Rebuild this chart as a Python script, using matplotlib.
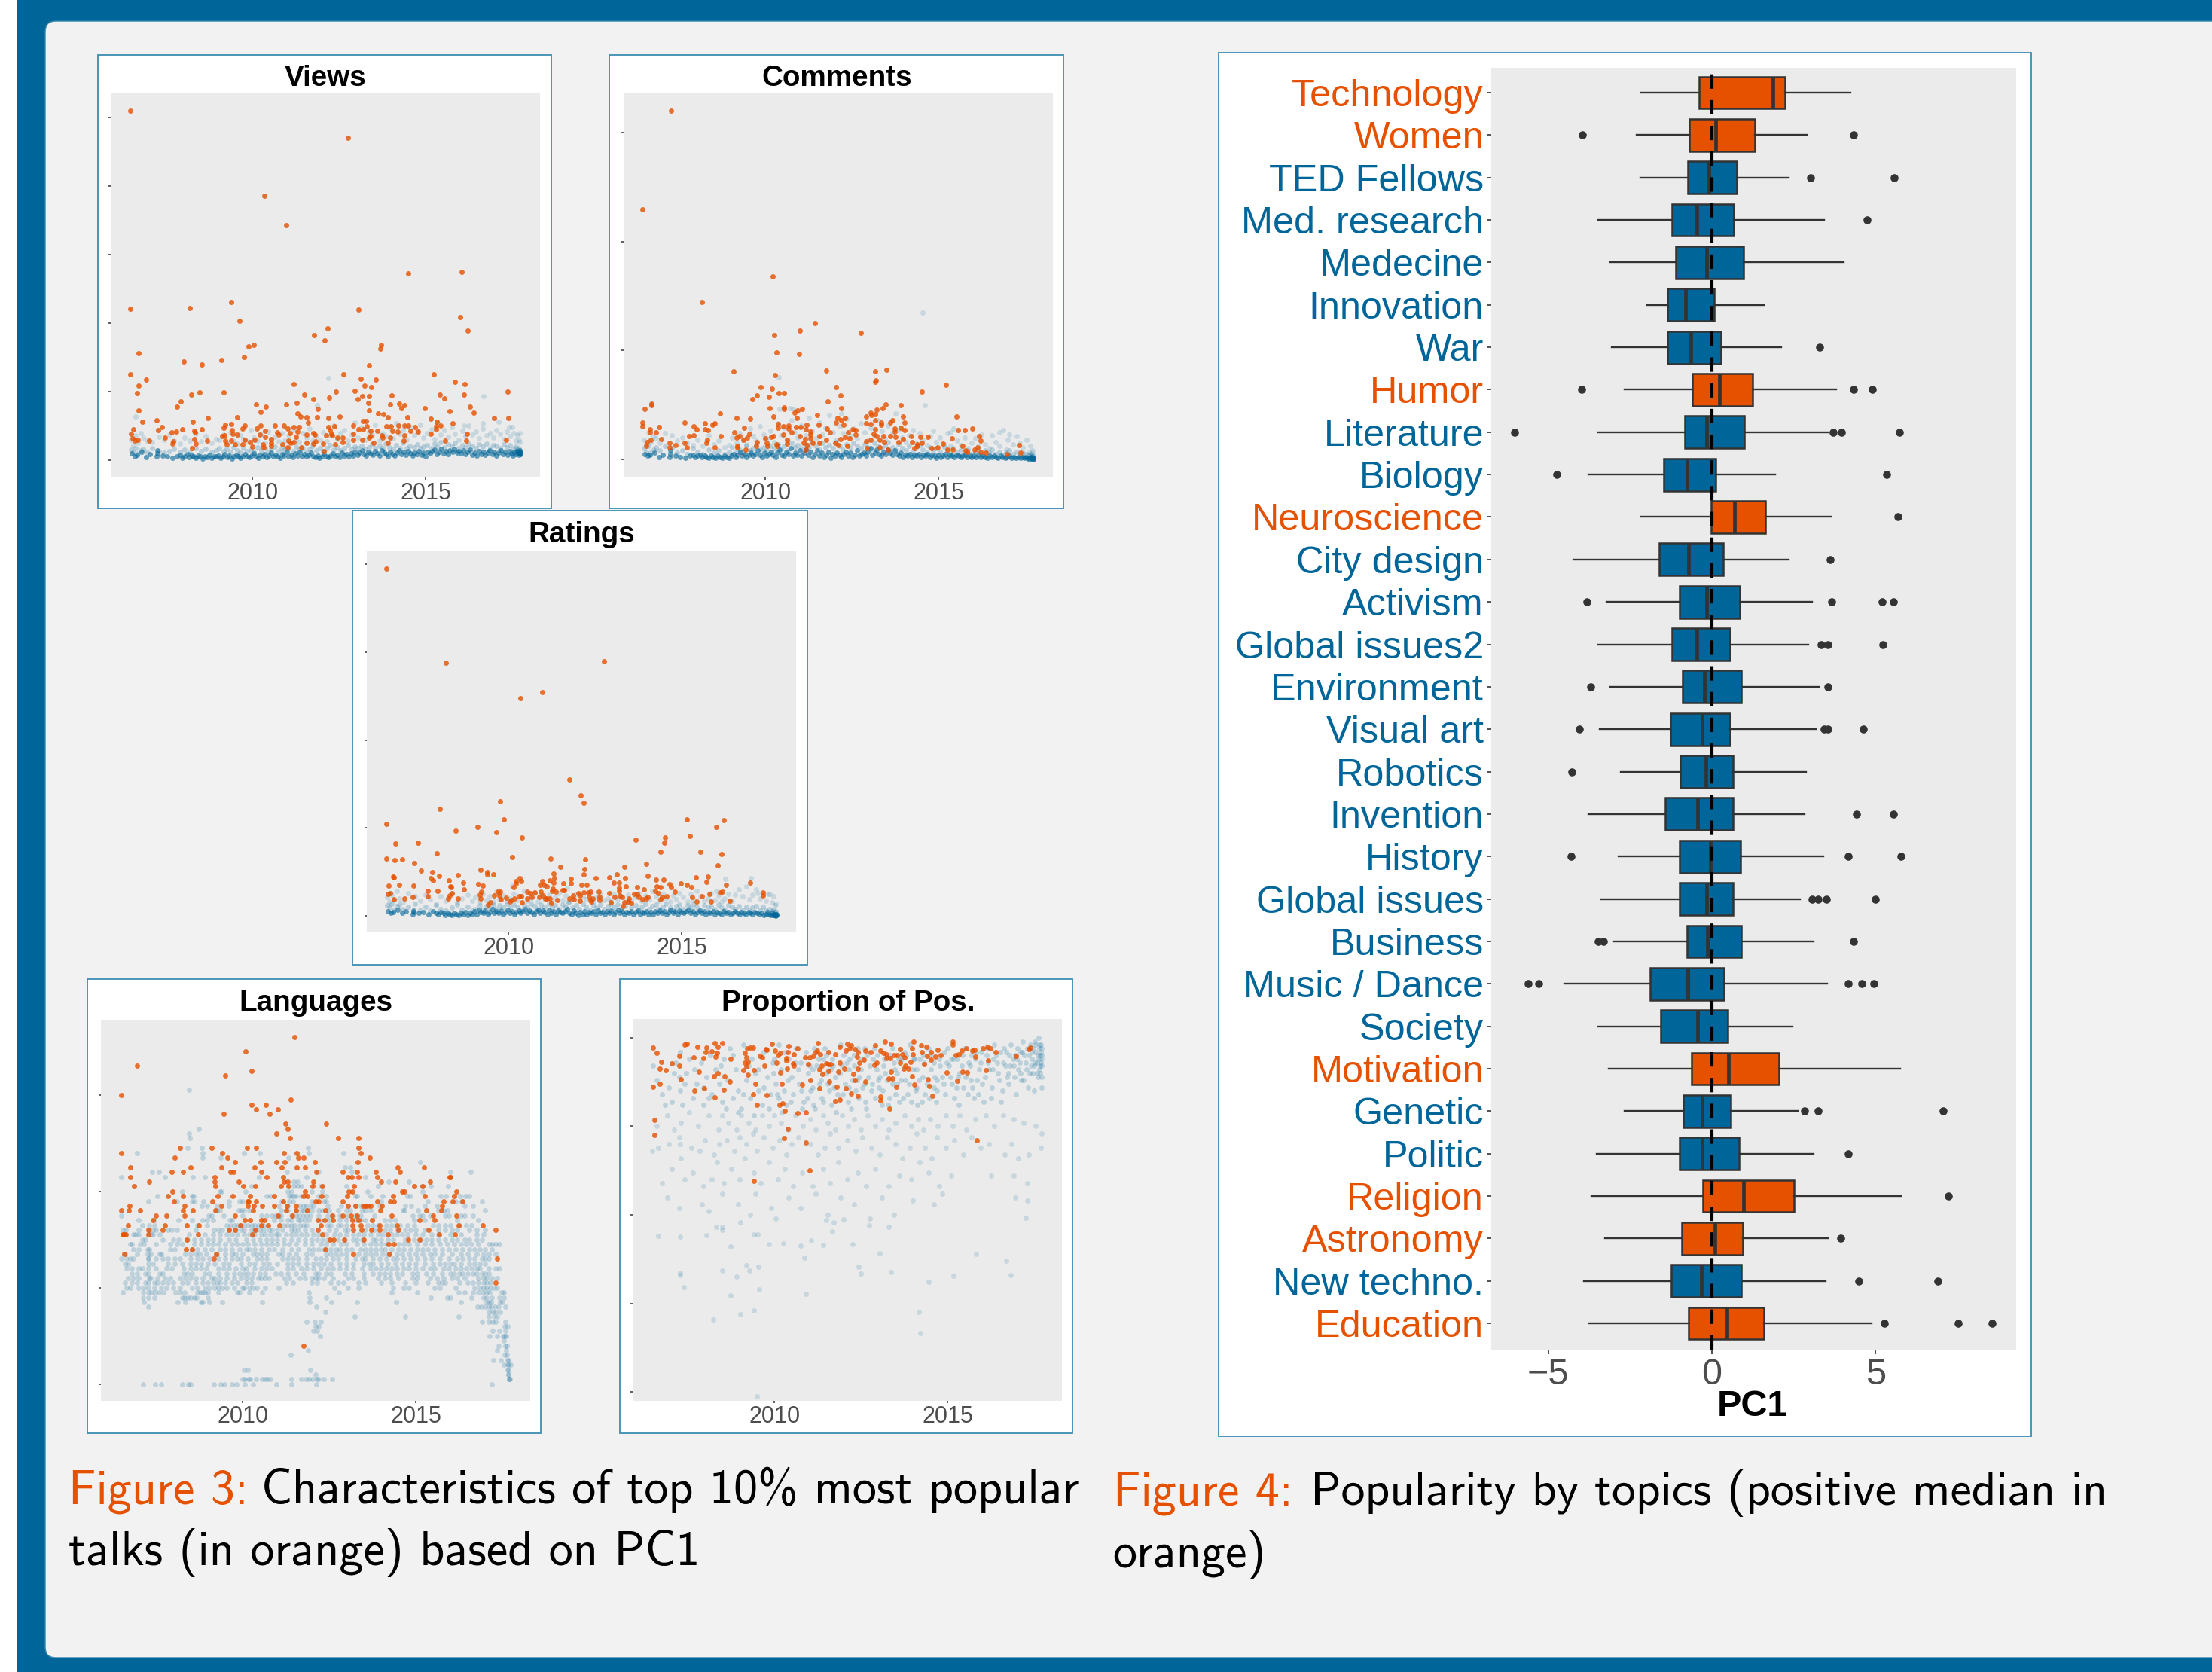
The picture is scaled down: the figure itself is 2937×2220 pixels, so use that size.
import matplotlib
matplotlib.use('Agg')
import matplotlib.pyplot as plt
from matplotlib.patches import Rectangle, FancyBboxPatch

plt.rcParams['font.family'] = ['Liberation Sans', 'DejaVu Sans']

BLUE = '#006699'
ORANGE = '#E65100'
W, H = 2937, 2220

# ---------- Figure 4 data ----------
topics = ['Technology','Women','TED Fellows','Med. research','Medecine','Innovation','War','Humor','Literature','Biology',
          'Neuroscience','City design','Activism','Global issues2','Environment','Visual art','Robotics','Invention','History','Global issues',
          'Business','Music / Dance','Society','Motivation','Genetic','Politic','Religion','Astronomy','New techno.','Education']
whislo = [-2.16,-2.29,-2.18,-3.48,-3.10,-1.97,-3.05,-2.66,-3.48,-3.77,-2.16,-4.24,-3.21,-3.47,-3.10,-3.42,-2.79,-3.77,-2.85,-3.39,-2.98,-4.52,-3.48,-3.16,-2.66,-3.53,-3.69,-3.26,-3.90,-3.76]
q1 = [-0.39,-0.69,-0.74,-1.21,-1.10,-1.35,-1.35,-0.60,-0.84,-1.48,-0.03,-1.60,-0.98,-1.23,-0.89,-1.27,-0.97,-1.42,-0.98,-1.00,-0.76,-1.89,-1.56,-0.63,-0.87,-0.98,-0.27,-0.92,-1.24,-0.71]
medians = [1.87,0.11,-0.10,-0.47,-0.16,-0.81,-0.65,0.24,-0.16,-0.77,0.68,-0.71,-0.16,-0.45,-0.24,-0.31,-0.18,-0.44,-0.05,-0.16,-0.13,-0.73,-0.44,0.50,-0.29,-0.31,0.97,0.08,-0.32,0.45]
q3 = [2.23,1.31,0.76,0.66,0.97,0.06,0.27,1.23,0.98,0.11,1.63,0.34,0.85,0.55,0.89,0.56,0.65,0.65,0.87,0.65,0.90,0.37,0.48,2.05,0.58,0.82,2.50,0.95,0.90,1.58]
whishi = [4.23,2.90,2.35,3.42,4.02,1.58,2.11,3.79,3.56,1.94,3.63,2.35,3.06,2.94,3.26,3.18,2.87,2.82,3.40,2.68,3.11,3.52,2.47,5.74,2.63,3.10,5.77,3.53,3.48,4.87]
outliers = [[],[-3.95,4.32],[3.02,5.56],[4.73],[],[],[3.29],[-3.98,4.32,4.89],[-6.02,3.69,3.95,5.73],[-4.73,5.34],
            [5.68],[3.60],[-3.81,3.65,5.19,5.55],[3.34,3.55,5.23],[-3.71,3.55],[-4.06,3.42,3.55,4.63],[-4.29],[4.42,5.55],[-4.31,4.15,5.77],[3.05,3.24,3.50,4.98],
            [-3.48,-3.31,4.32],[-5.61,-5.29,4.15,4.58,4.95],[],[],[2.82,3.23,7.06],[4.15],[7.23],[3.94],[4.48,6.90],[5.27,7.53,8.55]]
positive_topics = ['Technology','Women','Humor','Neuroscience','Motivation','Religion','Astronomy','Education']

# ---------- Figure 3 data: shared dense band of talk dates (years since 2000) ----------
core_years = [6.52,6.61,6.68,6.80,6.93,7.05,7.24,7.25,7.26,7.40,
 7.55,7.70,7.83,7.90,7.97,8.04,8.12,8.18,8.25,8.30,
 8.37,8.44,8.50,8.57,8.62,8.70,8.76,8.83,8.88,8.95,
 9.01,9.08,9.14,9.20,9.27,9.33,9.40,9.46,9.53,9.58,
 9.65,9.71,9.78,9.84,9.90,9.97,10.03,10.10,10.16,10.22,
 10.29,10.35,10.42,10.48,10.55,10.60,10.67,10.73,10.80,10.86,
 10.92,10.99,11.05,11.12,11.18,11.24,11.31,11.37,11.44,11.50,
 11.57,11.62,11.69,11.75,11.82,11.88,11.94,12.01,12.07,12.14,
 12.20,12.26,12.33,12.39,12.46,12.52,12.59,12.64,12.71,12.77,
 12.84,12.90,12.96,13.03,13.09,13.16,13.22,13.28,13.35,13.41,
 13.48,13.54,13.61,13.66,13.73,13.79,13.86,13.92,13.98,14.05,
 14.11,14.18,14.24,14.30,14.37,14.43,14.50,14.56,14.63,14.68,
 14.75,14.81,14.88,14.94,15.00,15.07,15.13,15.20,15.26,15.32,
 15.39,15.45,15.52,15.58,15.65,15.70,15.77,15.83,15.90,15.96,
 16.02,16.09,16.15,16.22,16.28,16.34,16.41,16.47,16.54,16.60,
 16.67,16.72,16.79,16.85,16.92,16.98,17.04,17.11,17.17,17.24,
 17.30,17.36,17.42,17.47,17.52,17.56,17.60,17.63,17.66,17.68,
 17.70,17.71,17.72,17.72,17.73,17.73]
views_core = [.10,.05,.08,.12,.04,.09,.05,.10,.14,.07, .06,.03,.05,.08,.03,.06,.09,.04,.07,.05,
 .03,.07,.05,.02,.06,.04,.08,.03,.06,.05, .07,.03,.06,.09,.04,.07,.02,.05,.08,.06,
 .03,.06,.09,.05,.04,.07,.10,.05,.03,.08, .06,.09,.04,.07,.11,.05,.08,.06,.03,.09,
 .07,.12,.05,.08,.04,.10,.07,.12,.06,.09, .05,.08,.11,.06,.04,.07,.03,.06,.09,.05,
 .04,.07,.10,.06,.08,.04,.11,.07,.09,.06, .10,.07,.12,.08,.11,.14,.09,.07,.12,.10,
 .08,.13,.10,.07,.14,.11,.09,.06,.12,.09, .07,.11,.14,.09,.12,.08,.13,.10,.07,.11,
 .09,.13,.08,.11,.06,.12,.10,.13,.15,.09, .12,.16,.10,.13,.09,.14,.12,.16,.11,.13,
 .10,.14,.09,.12,.15,.08,.11,.07,.13,.09, .12,.08,.11,.14,.09,.12,.07,.11,.14,.09,
 .12,.08,.13,.10,.07,.12,.09,.13,.10,.12, .08,.12,.10,.14,.09,.11]
comments_core = [.05,.03,.04,.06,.02,.04,.02,.05,.08,.03, .02,.01,.03,.04,.02,.03,.04,.02,.03,.02,
 .01,.03,.02,.01,.03,.02,.01,.03,.02,.01, .03,.05,.02,.04,.07,.03,.05,.02,.04,.06,
 .03,.05,.08,.04,.02,.06,.03,.05,.07,.04, .02,.06,.09,.04,.03,.07,.05,.10,.03,.06,
 .04,.08,.03,.06,.09,.04,.07,.02,.05,.08, .03,.06,.02,.04,.07,.01,.05,.03,.06,.04,
 .02,.05,.07,.03,.06,.02,.04,.08,.03,.05, .06,.03,.07,.10,.04,.06,.09,.05,.03,.07,
 .05,.09,.06,.04,.08,.05,.03,.06,.02,.04, .03,.05,.02,.04,.03,.05,.02,.04,.03,.05,
 .02,.04,.03,.01,.04,.02,.03,.05,.02,.04, .03,.02,.04,.03,.02,.03,.04,.02,.03,.02,
 .03,.02,.04,.02,.03,.02,.01,.03,.02,.03, .02,.01,.03,.02,.01,.02,.03,.01,.02,.01,
 .02,.01,.02,.01,.02,.01,.00,.01,.02,.01, .01,.00,.01,.02,.01,.00]
ratings_core = [.05,.03,.04,.07,.03,.05,.02,.04,.06,.03, .04,.02,.05,.03,.02,.04,.03,.01,.03,.02,
 .01,.03,.02,.01,.03,.02,.04,.01,.03,.02, .05,.02,.07,.04,.03,.06,.02,.04,.08,.03,
 .05,.03,.06,.02,.04,.07,.03,.05,.02,.04, .06,.03,.05,.08,.03,.06,.04,.02,.05,.07,
 .03,.06,.04,.02,.07,.03,.05,.02,.06,.04, .03,.05,.08,.03,.02,.06,.03,.01,.04,.02,
 .05,.02,.04,.03,.05,.02,.06,.03,.04,.02, .05,.03,.06,.02,.04,.07,.03,.05,.02,.04,
 .03,.05,.02,.04,.06,.02,.04,.03,.05,.02, .04,.02,.05,.03,.06,.03,.05,.02,.04,.07,
 .03,.05,.02,.06,.04,.03,.05,.07,.03,.05, .02,.04,.06,.03,.05,.02,.04,.03,.05,.02,
 .04,.03,.02,.05,.03,.04,.02,.03,.05,.03, .02,.04,.03,.02,.04,.03,.02,.04,.03,.02,
 .03,.01,.02,.04,.02,.01,.03,.01,.02,.01, .01,.02,.00,.01,.02,.01]

halo_years = [6.5,6.56,6.62,6.7,6.77,6.85,6.96,7.1,7.31,7.45,
 7.6,7.74,7.92,8.05,8.2,8.36,8.51,8.65,8.82,8.95,
 9.05,9.16,9.25,9.37,9.45,9.56,9.65,9.74,9.85,9.96,
 10.05,10.14,10.25,10.36,10.45,10.53,10.65,10.76,10.85,10.94,
 11.05,11.16,11.25,11.34,11.45,11.56,11.65,11.73,11.85,11.96,
 12.05,12.15,12.24,12.35,12.46,12.55,12.64,12.75,12.86,12.95,
 13.05,13.14,13.25,13.36,13.45,13.55,13.66,13.75,13.84,13.95,
 14.06,14.15,14.25,14.34,14.45,14.55,14.66,14.75,14.85,14.94,
 15.05,15.16,15.25,15.35,15.44,15.55,15.65,15.76,15.85,15.95,
 16.06,16.15,16.24,16.35,16.45,16.54,16.65,16.75,16.86,16.95,
 17.05,17.14,17.25,17.35,17.44,17.55,17.6,17.65,17.69,17.72]
views_near = [.15,.12,.18,.10,.14,.16,.12,.17,.13,.11, .13,.16,.12,.15,.11,.17,.13,.16,.12,.14,
 .18,.13,.16,.12,.19,.14,.11,.17,.13,.15, .12,.19,.14,.17,.12,.16,.20,.13,.18,.15,
 .17,.13,.20,.15,.18,.12,.16,.21,.14,.18, .13,.17,.22,.15,.19,.14,.18,.22,.16,.20,
 .17,.21,.16,.19,.23,.17,.21,.18,.24,.19, .16,.22,.18,.25,.17,.21,.19,.23,.17,.20,
 .22,.18,.24,.20,.26,.19,.23,.21,.25,.18, .22,.19,.24,.21,.17,.23,.20,.24,.18,.22,
 .21,.18,.23,.19,.22,.17,.20,.15,.18,.14]
views_far = [.30,.22,.36,.25,.40,.33,.28,.26,.34,.30, .37,.28,.24,.33,.29,.38,.27,.35,.25,.31,
 .30,.37,.26,.41,.29,.24,.36,.31,.27,.44, .33,.28,.38,.25,.42,.30,.34,.27,.40,.29,
 .36,.44,.31,.26,.39,.33,.46,.28,.35,.30, .41,.27,.36,.50,.31,.40,.44,.29,.37,.55,
 .33,.48,.30,.42,.37,.52,.29,.40,.35,.47, .32,.54,.38,.44,.30,.48,.36,.42,.52,.33,
 .39,.45,.31,.55,.37,.44,.34,.48,.38,.30, .43,.35,.50,.37,.42,.32,.46,.36,.39,.33,
 .44,.38,.31,.42,.35,.39,.28,.36,.30,.26]
comments_near = [.10,.07,.12,.06,.09,.11,.08,.12,.10,.06, .08,.05,.10,.07,.05,.09,.06,.08,.05,.07,
 .11,.07,.09,.06,.12,.08,.10,.13,.09,.11, .08,.12,.10,.14,.09,.12,.08,.15,.11,.13,
 .10,.14,.11,.16,.12,.09,.15,.11,.13,.10, .16,.12,.09,.14,.11,.15,.12,.10,.14,.11,
 .09,.15,.12,.10,.13,.16,.11,.09,.14,.10, .08,.12,.07,.10,.13,.09,.06,.11,.08,.10,
 .07,.11,.08,.05,.10,.07,.09,.06,.08,.05, .07,.09,.05,.08,.06,.09,.05,.07,.04,.06,
 .08,.05,.07,.04,.06,.05,.03,.05,.03,.04]
comments_far = [.18,.14,.25,.16,.21,.19,.15,.24,.22,.17, .20,.15,.13,.18,.12,.22,.14,.17,.11,.13,
 .20,.15,.24,.18,.14,.28,.21,.17,.30,.23, .19,.26,.16,.33,.22,.29,.18,.36,.25,.20,
 .31,.22,.38,.26,.19,.34,.23,.29,.41,.25, .18,.30,.24,.37,.21,.28,.19,.33,.25,.17,
 .29,.22,.36,.26,.19,.31,.24,.42,.27,.20, .16,.22,.27,.15,.24,.18,.13,.21,.26,.16,
 .20,.14,.24,.12,.28,.17,.13,.20,.10,.15, .19,.12,.23,.14,.10,.22,.16,.12,.27,.09,
 .23,.14,.21,.15,.11,.18,.07,.12,.06,.08]
ratings_near = [.12,.09,.14,.07,.11,.13,.08,.10,.14,.07, .10,.06,.12,.08,.06,.09,.13,.07,.10,.06,
 .08,.12,.07,.11,.09,.13,.08,.12,.10,.14, .09,.13,.10,.07,.12,.09,.14,.11,.08,.13,
 .10,.14,.09,.12,.08,.13,.10,.15,.09,.12, .08,.14,.10,.07,.12,.09,.13,.08,.11,.14,
 .09,.13,.08,.11,.15,.09,.12,.07,.10,.14, .08,.11,.13,.08,.10,.14,.09,.07,.11,.13,
 .08,.12,.09,.14,.10,.07,.12,.09,.11,.08, .13,.09,.07,.12,.10,.08,.11,.07,.10,.06,
 .09,.11,.07,.10,.06,.08,.05,.07,.04,.05]
ratings_far = [.21,.16,.24,.18,.28,.20,.15,.26,.22,.17, .24,.19,.14,.22,.17,.26,.15,.20,.24,.17,
 .21,.16,.25,.18,.22,.16,.27,.19,.23,.17, .20,.25,.18,.22,.28,.17,.20,.26,.16,.23,
 .19,.24,.17,.21,.26,.18,.23,.16,.20,.25, .17,.22,.19,.26,.16,.21,.24,.18,.20,.17,
 .25,.19,.22,.16,.24,.18,.21,.26,.17,.23, .19,.28,.22,.17,.25,.20,.16,.23,.19,.26,
 .21,.16,.25,.18,.28,.22,.17,.20,.26,.18, .23,.16,.20,.25,.17,.24,.30,.22,.33,.19,
 .24,.30,.20,.24,.17,.25,.15,.22,.12,.14]
views_extra_blue = [(2012.2,1.2),(2011.87,.8),(2016.68,.93),(2006.63,.64),(2017.71,.39),(2016.1,.5),(2016.65,.54),(2017.1,.56),(2017.4,.48),(2017.5,.48)]
comments_extra_blue = [(2014.53,1.347),(2014.61,.5),(2010.39,.75),(2010.72,.47),(2010.4,.46),(2012.2,.42),(2010.8,.46),(2016.75,.25),(2017.0,.18),(2015.35,.25)]
ratings_extra_blue = [(2016.25,.42),(2017.0,.43),(2010.1,.34),(2016.0,.28),(2017.2,.26),(2017.5,.25),(2011.7,.32)]

views_x = [2006.48,2012.76,2010.34,2010.98,2014.49,2016.03,2006.48,2008.19,2009.38,2013.06,2015.99,2009.63,2012.18,2016.22,2011.78,2012.09,2009.88,2010.04,2013.71,2013.69,2006.72,2009.76,2008.01,2009.1,2008.53,2013.37,2006.48,2012.63,2015.23,2006.93,2013.13,2013.56,2006.72,2011.2,2013.23,2013.44,2015.84,2016.13,2006.67,2009.18,2008.47,2008.24,2012.4,2012.96,2017.36,2011.5,2014.01,2013.18,2013.36,2015.4,2015.53,2016.1,2012.21,2011.76,2013.03,2007.93,2011.28,2010.98,2010.11,2013.34,2013.97,2014.24,2014.39,2007.82,2010.39,2016.27,2014.29,2014.98,2011.88,2006.71,2010.24,2013.37,2015.7,2016.39,2011.3,2013.63,2013.77,2011.38,2011.57,2012.52,2012.2,2011.87,2008.72,2009.57,2013.92,2014.47,2016.98,2017.38,2015.14,2011.61,2006.83,2007.24,2008.27,2013.19,2013.28,2015.33,2015.77,
 2006.57,2007.27,2007.38,2007.68,2007.8,2007.97,2008.32,2008.34,2008.54,2009.17,2009.22,2009.38,2009.4,2009.71,2009.77,2010.12,2010.23,2010.37,2010.64,2010.9,2011.01,2011.19,2011.34,2011.29,2011.09,2010.72,2012.2,2012.37,2012.23,2012.9,2013.06,2013.2,2013.31,2013.42,2013.61,2013.87,2013.99,2014.03,2014.22,2014.39,2014.5,2014.7,2014.56,2014.78,2015.29,2015.29,2015.42,
 2006.5,2006.53,2006.61,2006.7,2007.01,2007.48,2007.72,2008.32,2008.7,2009.12,2009.2,2009.21,2009.39,2009.43,2009.57,2009.78,2009.93,2010.06,2010.21,2010.37,2010.53,2010.76,2011.03,2011.2,2011.26,2011.56,2011.76,2011.79,2011.83,2012.12,2012.28,2012.31,2012.46,2012.6,2012.9,2012.9,2013.17,2013.37,2013.42,2013.73,2013.76,2013.97,2014.2,2014.39,2015.14,2015.57,2016.2,2016.16,2017.33,
 2007.69,2008.36,2008.26,2009.26,2009.49,2009.72,2010.0,2010.29,2010.32,2010.53,2010.53,2010.87,2011.01,2011.11,2011.42,2011.56,2011.76,2012.03,2012.06,2012.61,2012.38,2013.49,2013.92,2014.37]
views_y = [5.10,4.70,3.85,3.43,2.72,2.75,2.21,2.22,2.31,2.20,2.09,2.03,1.92,1.89,1.82,1.745,1.66,1.68,1.68,1.62,1.555,1.505,1.44,1.465,1.39,1.38,1.255,1.255,1.255,1.18,1.19,1.18,1.09,1.11,1.085,1.065,1.14,1.11,.98,.985,.985,.955,.995,1.01,.995,.955,.945,.93,.935,.96,.905,.96,.91,.89,.89,.86,.83,.81,.81,.83,.81,.825,.805,.78,.78,.775,.755,.76,.75,.73,.705,.72,.71,.695,.685,.68,.665,.64,.63,.64,.62,.63,.61,.63,.63,.63,.61,.62,.6,.55,.56,.58,.555,.57,.57,.555,.54,
 .45,.44,.48,.41,.42,.45,.43,.41,.45,.47,.52,.53,.44,.46,.51,.46,.5,.43,.5,.5,.46,.48,.48,.42,.4,.41,.48,.49,.44,.51,.45,.45,.49,.43,.43,.49,.49,.43,.51,.51,.5,.48,.43,.42,.49,.45,.51,
 .38,.32,.28,.3,.29,.33,.27,.31,.29,.35,.36,.29,.28,.38,.37,.3,.26,.3,.37,.34,.31,.37,.28,.26,.34,.37,.39,.37,.27,.36,.38,.36,.33,.33,.38,.3,.3,.33,.35,.36,.33,.33,.42,.36,.38,.29,.38,.28,.3,
 .24,.24,.18,.23,.23,.23,.2,.23,.19,.25,.21,.23,.19,.25,.19,.25,.24,.24,.13,.26,.23,.25,.25,.28]

comments_x = [2007.27,2006.46,2010.21,2008.17,2011.43,2011.0,2010.26,2012.75,2010.33,2010.98,2009.09,2011.75,2013.17,2013.5,2010.28,2013.19,2013.17,2012.04,2015.22,2009.86,2010.2,2010.39,2010.53,2014.51,2012.16,2009.75,2010.1,2009.63,2011.8,2006.71,2006.71,2013.9,2013.48,2010.12,2012.19,2010.55,2010.53,2006.51,2013.21,2013.38,2011.06,2010.94,2010.85,2008.7,2013.04,2013.16,2013.07,2011.49,2010.24,2012.9,2013.97,2015.52,2009.17,2009.57,2010.9,2012.09,2012.19,2012.3,2013.17,2013.67,2013.6,2014.01,2007.67,2006.46,2012.04,2008.25,2008.48,2008.53,2012.9,2013.05,2013.35,2013.35,2010.36,2011.2,2011.55,2012.26,2006.46,2006.93,2007.93,2009.39,2010.52,2010.66,2010.89,2011.02,2013.91,2015.98,2015.57,2015.75,2014.02,2013.73,2006.66,2006.67,2006.84,2008.01,2008.25,2008.34,2009.11,2009.55,
 2010.36,2010.67,2011.18,2011.3,2011.78,2011.86,2012.39,2012.52,2012.6,2013.16,2013.12,2013.73,2007.8,2007.94,2008.71,2009.16,2009.25,2009.48,2010.24,2010.16,2010.52,2010.75,2011.0,2011.3,2011.56,2012.31,2012.61,2013.21,2013.41,2013.61,2013.76,2014.22,2014.47,2014.69,2015.39,2016.16,2007.0,2006.69,2006.58,2008.33,2009.37,2010.0,2010.63,2011.14,2011.31,2011.75,2012.16,2012.43,2012.9,2013.03,2013.29,2013.43,2013.98,2013.84,2014.23,2016.21,
 2007.24,2007.67,2007.41,2008.31,2009.75,2010.03,2010.32,2010.62,2011.1,2011.36,2011.57,2012.01,2012.11,2014.51,2014.39,2015.13,2017.33,2015.7,2006.56,2007.73,2007.24,2008.53,2009.2,2009.19,2009.74,2010.06,2010.35,2011.21,2012.37,2013.31,2014.39,2014.79,2014.97,2014.3,2016.13,2009.43,2011.18,2012.94,2013.54,2015.26,2015.4,2015.77,2015.82,2016.03,2016.22,2016.37,2017.37,2016.97]
comments_y = [3.205,2.30,1.68,1.445,1.25,1.185,1.14,1.16,.98,.97,.81,.815,.805,.82,.775,.725,.71,.665,.685,.665,.65,.61,.61,.62,.585,.585,.57,.55,.53,.5,.51,.5,.505,.47,.47,.475,.46,.46,.455,.47,.46,.445,.425,.42,.425,.415,.41,.405,.395,.395,.39,.395,.38,.375,.38,.38,.36,.38,.36,.355,.335,.34,.34,.335,.34,.33,.32,.33,.33,.325,.335,.315,.325,.32,.315,.315,.3,.295,.3,.29,.3,.31,.295,.295,.29,.28,.265,.265,.27,.28,.275,.25,.245,.275,.275,.265,.25,.235,
 .29,.285,.275,.255,.28,.245,.245,.275,.265,.275,.235,.255,.215,.22,.215,.2,.21,.2,.21,.205,.23,.25,.21,.225,.215,.205,.225,.21,.21,.21,.205,.21,.205,.205,.19,.21,.185,.175,.16,.18,.175,.19,.18,.185,.195,.18,.185,.19,.165,.18,.175,.155,.185,.16,.155,.17,
 .15,.15,.13,.15,.155,.15,.14,.145,.15,.15,.15,.15,.13,.15,.135,.145,.13,.125,.12,.11,.11,.11,.125,.11,.12,.12,.12,.13,.125,.11,.12,.105,.11,.1,.11,.09,.085,.1,.085,.09,.085,.08,.065,.085,.07,.06,.06,.045]

ratings_x = [2006.48,2008.19,2012.76,2010.98,2010.34,2011.76,2012.09,2012.17,2009.76,2008.02,2009.87,2015.14,2016.22,2006.48,2009.1,2015.99,2008.48,2009.65,2015.23,2010.39,2014.52,2013.68,2006.73,2007.39,2014.49,2014.39,2015.53,2007.93,2016.15,2006.48,2010.11,2011.21,2012.21,2006.94,2006.72,2007.28,2013.98,2016.04,2011.5,2013.35,2012.2,2007.47,2009.19,2009.38,2009.38,2009.57,2007.8,2008.0,2011.31,2012.18,2008.54,2013.13,2012.9,2006.67,2006.7,2014.02,2015.4,2015.76,2007.75,2007.82,2010.33,2011.33,2011.79,2012.52,2013.36,2010.21,2010.37,2011.19,2014.25,2014.47,2008.27,2010.98,2011.3,2011.58,2011.8,2013.04,2013.19,2008.7,2009.13,2009.26,2015.71,2016.98,2016.27,2006.53,2006.84,2007.25,2008.32,2008.35,2010.15,2010.21,2010.91,2011.01,2011.11,2012.11,2012.26,2013.39,2014.28,2014.39,2014.64,2014.7,2014.98,2015.15,2015.28,2013.71,2013.92,2008.72,2007.68,2007.95,2009.22,2009.76,2009.7,2011.27,2011.25,2011.36,2011.57,2011.61,2013.19,2013.19,2014.24,2014.33,2014.79,2010.55,2010.62,2010.76,2010.93,2012.37,2012.61,2012.18,2012.29,2006.51,2006.58,2008.36,2012.9,2012.02,2013.71,2013.63,2015.79,2017.34,2016.17,2016.1,2007.68,2007.24,2006.69,2006.99,2008.25,2008.54,2008.31,2009.17,2009.2,2009.58,2009.73,2009.77,2009.93,
 2010.05,2010.09,2010.16,2010.29,2010.37,2010.54,2010.66,2010.89,2010.99,2011.11,2011.2,2011.06,2011.41,2011.75,2011.87,2011.88,2012.06,2012.06,2012.33,2012.37,2012.43,2012.63,2012.63,2013.07,2013.22,2013.27,2013.47,2013.45,2013.35,2013.53,2013.3,2013.75,2013.86,2013.98,2014.02,2014.38,2014.56,2014.43,2015.31,2015.58,2015.84,2016.39,2015.43,2017.34,2009.41,2009.48,2012.96,2012.39,2011.24,2010.38]
ratings_y = [3.95,2.88,2.90,2.55,2.48,1.55,1.37,1.29,1.305,1.215,1.095,1.10,1.09,1.05,1.015,1.01,.97,.955,.91,.895,.89,.865,.825,.83,.83,.725,.73,.715,.70,.65,.67,.655,.64,.64,.63,.60,.59,.575,.56,.56,.53,.515,.52,.5,.475,.475,.495,.45,.48,.475,.465,.475,.44,.445,.435,.455,.44,.445,.425,.4,.43,.425,.42,.43,.43,.395,.395,.4,.41,.41,.405,.395,.375,.365,.37,.38,.38,.375,.36,.345,.385,.38,.355,.345,.355,.345,.33,.325,.325,.365,.355,.35,.33,.35,.35,.335,.335,.325,.36,.325,.365,.355,.325,.325,.3,.3,.28,.285,.275,.275,.275,.31,.28,.27,.29,.295,.315,.285,.28,.26,.27,.275,.26,.265,.27,.275,.275,.265,.265,.245,.255,.255,.255,.255,.25,.245,.245,.265,.27,.265,.22,.215,.19,.195,.195,.195,.23,.24,.2,.235,.235,.19,.205,
 .165,.18,.2,.22,.22,.195,.21,.215,.23,.195,.195,.195,.18,.2,.23,.19,.23,.17,.21,.18,.195,.21,.18,.21,.23,.215,.195,.165,.15,.145,.115,.21,.185,.195,.215,.19,.22,.21,.21,.225,.16,.17,.165,.235,.125,.15,.155,.16,.145,.155]

# Languages: number of languages -> talk dates (years since 2000)
lang_top_levels = {72:[11.49],69:[10.08],66:[6.96],65:[10.25],64:[9.5],60:[6.5],59:[11.38],58:[10.25,10.67],57:[10.39,11.01],56:[9.45,10.77],
 54:[11.23,12.42],53:[11.31],52:[10.97],51:[11.36,12.75,13.34],49:[8.2,9.11,10.12,10.38,13.34],48:[6.5,9.41,11.2,11.57,13.4],47:[8.04,9.57,11.61,11.76,13.67],
 46:[9.77,10.52,10.97,11.22,12.08,13.32],45:[6.75,8.49,9.39,10.35,11.13,11.56,11.79,14.47,15.24],44:[7.96,8.28,9.65,9.73,10.55,12.12,12.89,13.31,13.84,14.53],
 43:[6.75,9.19,10.69,11.18,13.04,13.15,13.35,13.89,15.97,16.0],42:[7.3,9.2,9.88,11.2,11.31,12.04,14.0,14.41,15.4],
 41:[6.86,9.22,10.01,10.37,11.1,11.33,12.01,12.31,13.21,14.95,15.2],40:[7.98,11.81,13.06,13.16,14.61,14.67,16.18],
 39:[7.84,8.27,9.28,9.71,10.22,10.92,11.76,11.87,12.27,13.02,14.35,15.26,16.1],
 38:[8.02,9.13,10.15,10.17,10.38,11.17,12.11,12.19,12.88,13.89,14.25,14.37,15.81,16.07,16.35],
 37:[6.73,8.33,9.39,10.15,10.33,10.57,10.9,11.28,11.55,13.04,13.26,13.48,13.54,13.6,13.69,14.01,15.75],
 36:[6.5,6.71,7.03,8.28,8.56,9.21,10.3,11.25,11.55,11.87,12.39,13.97,15.31,15.73],
 35:[7.49,7.81,8.32,9.78,11.01,11.43,12.59,12.89,13.12,13.29,14.31,15.5,16.16],
 34:[7.41,10.06,10.21,10.54,10.63,12.16,12.36,12.6,13.17,13.35,13.73,15.11,15.54],
 33:[6.7,7.76,8.38,8.74,9.94,10.54,10.73,11.07,12.25,13.17,13.41,13.95,14.45,16.23,16.94],
 32:[7.27,7.7,9.6,9.79,10.37,12.16,13.2,13.43,13.72,13.96,14.49,15.37,17.29],
 31:[6.53,6.57,6.62,7.27,8.72,10.28,12.3,14.2,15.67,16.13],30:[8.38,12.52,12.62,12.94,13.49,14.77,15.11],29:[14.21,14.37],28:[8.36,8.55,12.39],
 27:[6.59,9.24,13.19,14.23],26:[9.18,17.34],21:[17.31],8:[11.76]}
lang_rest_levels = {61:[8.45],53:[8.74],52:[8.46],51:[8.48],49:[8.4,8.83,11.89],48:[6.96,8.84,10.04,10.5,11.9,12.91],47:[8.84,9.36,11.32],46:[15.13],45:[12.96,13.11],
 44:[7.39,7.59,11.28,12.2,13.14,15.99,16.59],43:[6.5,7.76,8.56,8.91,10.48,11.84,13.55],42:[11.47,11.58,14.21,14.81],
 41:[10.26,11.47,11.58,11.7,12.25,13.0,13.9,15.2,15.43,15.92],40:[8.26,9.35,9.39,10.08,11.29,11.4,12.0,12.3,13.6,15.2],
 39:[7.55,8.53,8.58,10.7,10.8,11.35,11.42,11.48,11.55,11.7,12.2,12.4,13.25,13.3,13.7,14.05,14.75,14.85,15.72,15.87,16.28,16.42,16.55],
 38:[7.27,8.1,8.54,8.6,8.86,9.6,9.9,10.0,11.13,11.35,11.45,12.0,12.35,12.4,14.0,15.35,16.15,16.32,16.9],
 37:[8.82,8.98,9.25,9.6,11.05,11.3,11.65,11.75,11.82,11.95,12.05,12.45,12.85,13.25,13.4,13.95,14.7,14.87,15.25,15.6,16.4,16.65],
 36:[9.25,9.35,9.88,9.95,10.05,10.2,11.1,11.3,11.55,11.7,11.75,11.85,12.0,12.2,12.3,12.5,12.75,13.0,13.1,13.45,13.55,13.7,14.62,14.68,15.07,15.65,15.8,15.9,16.99],
 35:[6.5,9.02,9.1,9.45,10.0,10.55,10.7,10.85,10.95,11.03,11.1,11.4,11.55,11.62,11.73,11.85,11.95,12.2,12.45,12.6,12.8,13.0,13.25,13.4,13.8,14.9,15.1,15.2,15.4,15.85,15.95,16.3,16.4,16.65],
 34:[7.0,7.45,8.15,8.55,8.85,8.98,9.15,9.62,9.7,10.9,11.1,11.3,11.4,11.6,11.68,11.8,11.9,12.25,12.5,12.8,13.0,13.25,13.4,13.55,14.1,14.25,14.4,14.95,15.25,16.2,16.8],
 33:[7.1,7.3,7.45,8.7,8.97,9.55,9.65,9.75,9.85,9.95,10.05,10.15,10.25,10.35,10.45,10.6,11.2,11.3,11.4,11.5,11.65,11.75,11.85,12.45,12.55,12.75,12.85,13.0,13.6,13.75,13.9,14.15,14.3,14.55,14.75,14.95,15.5,15.65,15.85,16.0,16.25,16.45,16.6],
 32:[6.55,6.62,7.0,7.3,7.4,7.5,7.85,7.95,8.1,8.65,9.18,9.3,9.4,9.6,9.8,9.95,10.05,10.25,10.35,10.5,10.6,10.75,10.85,11.0,11.15,11.4,11.5,11.6,11.8,12.0,12.5,12.7,12.95,13.05,13.55,13.8,14.1,14.25,14.45,14.7,14.85,15.0,15.25,15.65,15.85,16.05,16.2,16.55,16.75,17.0],
 31:[6.6,6.85,6.9,7.0,7.35,7.4,7.6,8.45,8.9,9.15,9.35,9.55,9.7,9.85,10.05,10.2,10.35,10.55,10.65,10.8,10.95,11.05,11.25,11.4,11.55,11.7,11.85,12.05,12.2,12.4,12.65,12.8,13.0,13.2,13.35,13.5,13.7,13.9,14.05,14.3,14.45,14.6,14.75,15.0,15.2,15.45,15.65,16.0,16.3,16.75,16.95],
 30:[7.1,7.2,7.7,8.0,8.15,8.4,8.6,8.8,9.0,9.15,9.35,9.6,9.8,10.1,10.3,10.5,10.7,10.85,11.0,11.2,11.4,11.6,11.8,12.0,12.15,12.3,12.45,12.75,12.95,13.2,13.3,13.45,13.75,13.85,14.0,14.2,14.35,14.7,14.95,15.15,15.3,15.45,15.65,15.85,16.05,16.2,16.4,16.55,16.75,16.9],
 29:[6.75,6.8,7.05,7.15,7.5,7.9,8.1,8.25,8.6,8.8,9.0,9.15,9.3,9.5,9.7,9.85,10.0,10.15,10.35,10.55,10.7,10.85,11.0,11.2,11.35,11.55,11.8,12.0,12.25,12.4,12.6,12.85,13.0,13.3,13.5,13.7,13.85,14.0,14.15,14.5,14.65,14.8,15.05,15.25,15.45,15.7,15.9,16.1,16.3,16.45,16.6,16.8,17.1,17.2,17.3,17.4],
 28:[6.85,7.0,7.25,7.3,7.9,8.05,8.55,8.7,8.9,9.1,9.35,9.5,9.7,9.9,10.1,10.2,10.35,10.55,10.75,10.9,11.15,11.4,11.6,11.9,12.05,12.2,12.35,12.55,12.7,12.8,13.0,13.15,13.4,13.55,13.7,13.85,14.0,14.1,14.3,14.5,14.65,14.85,15.05,15.2,15.35,15.55,15.75,15.95,16.15,16.35,16.55,16.7,16.85,17.0,17.2],
 27:[6.6,6.95,7.25,7.35,7.6,7.65,8.35,8.5,8.65,8.75,8.95,9.25,9.5,9.7,9.8,10.0,10.3,10.4,10.55,10.7,11.05,11.15,11.35,11.55,11.85,12.0,12.4,12.55,12.7,12.85,13.0,13.35,13.55,13.7,13.85,14.05,14.2,14.45,14.6,14.8,15.0,15.2,15.4,15.55,15.75,16.05,16.3,16.5,16.75,16.95,17.1,17.3],
 26:[6.5,6.65,6.75,6.85,7.27,7.28,7.5,7.7,7.85,8.05,8.2,8.5,8.7,8.85,9.05,9.3,9.5,9.7,9.85,9.95,10.15,10.4,10.55,10.7,11.15,11.3,11.45,11.6,11.85,12.1,12.25,12.4,12.6,12.75,13.0,13.25,13.45,13.55,13.75,13.95,14.15,14.35,14.45,14.65,14.85,15.05,15.25,15.45,15.7,15.95,16.2,16.35,16.55,16.7,16.9,17.0,17.1],
 25:[6.6,6.7,7.27,7.4,7.85,8.05,8.25,8.5,8.65,8.8,9.0,9.2,9.45,9.6,9.95,10.2,10.35,10.6,10.75,11.0,11.3,11.45,11.6,11.85,12.05,12.2,12.35,12.55,12.8,13.0,13.2,13.5,13.65,13.75,14.0,14.2,14.4,14.6,14.8,15.0,15.25,15.5,15.7,15.85,16.0,16.1,16.3,16.55,16.7,16.85,17.0],
 24:[6.65,6.8,7.0,7.1,7.27,7.5,7.8,7.95,8.3,8.5,8.65,8.8,8.95,9.3,9.45,9.6,9.8,10.0,10.1,10.35,10.55,10.7,10.85,11.3,11.45,11.7,11.85,12.05,12.25,12.45,12.6,12.8,13.0,13.2,13.45,13.7,13.85,14.0,14.15,14.3,14.45,14.65,14.8,15.0,15.2,15.4,15.55,15.8,15.95,16.15,16.3,16.45,16.6,16.75,16.85,17.1,17.3,17.4],
 23:[6.8,6.95,7.2,7.27,7.6,7.7,8.3,8.4,8.55,8.9,9.05,9.3,9.55,9.75,9.9,10.05,10.15,10.3,10.5,10.65,10.95,11.1,11.3,11.55,11.75,12.1,12.2,12.4,12.55,12.95,13.15,13.5,13.75,13.95,14.1,14.25,14.45,14.6,14.9,15.05,15.3,15.5,15.75,16.0,16.1,16.25,16.35,16.5,16.65,16.75,16.9,17.0,17.1],
 22:[6.7,6.85,7.0,7.3,7.35,7.55,7.75,7.9,8.2,8.35,8.5,8.65,8.85,9.1,9.2,9.35,9.55,9.75,9.95,10.1,10.25,10.45,10.55,10.65,10.75,11.2,11.35,11.65,11.8,12.0,12.1,12.2,12.35,12.6,13.05,13.2,13.5,13.9,14.1,14.25,14.5,14.9,15.05,15.4,15.6,15.8,16.05,16.2,16.4,16.8,16.95,17.05,17.2,17.35],
 21:[6.6,6.8,6.95,7.2,7.27,7.45,7.55,7.7,7.85,8.0,8.25,8.4,8.65,8.85,9.0,9.15,9.25,9.35,9.5,9.7,9.85,10.1,10.25,11.25,11.45,12.0,12.15,12.55,12.75,12.9,13.35,13.55,14.0,14.3,14.7,15.0,15.35,15.65,15.75,15.85,16.25,16.5,16.65,16.8,16.95,17.05,17.15],
 20:[6.65,6.75,7.0,7.15,7.27,7.45,7.65,7.8,8.0,8.2,8.55,8.7,8.9,9.05,9.2,9.3,9.4,9.55,9.75,10.0,10.05,10.2,10.3,10.4,10.65,11.05,12.65,13.05,13.35,14.35,14.65,14.8,15.55,15.7,16.15,16.7,16.85,16.95,17.05,17.15,17.25,17.35],
 19:[6.53,7.12,7.27,7.36,7.47,7.58,7.71,8.07,8.2,8.33,8.69,8.77,8.85,8.92,9.0,9.3,9.85,9.92,10.2,10.57,11.92,12.78,14.3,15.05,16.23,16.4,16.65,16.81,16.92,17.03,17.13,17.47,17.53],
 18:[7.12,7.27,7.45,8.25,8.33,8.4,8.5,8.6,8.67,9.0,11.93,12.42,15.42,15.9,16.0,16.61,16.95,17.03,17.19,17.41,17.55],
 17:[7.15,8.12,8.35,8.8,8.85,9.05,9.4,10.57,11.94,12.57,13.3,14.43,16.3,17.03,17.1,17.17,17.42,17.5],
 16:[7.27,12.12,16.77,16.88,16.99,17.1,17.17,17.28,17.39,17.58],15:[12.38,17.1,17.21,17.31,17.42],14:[13.24,14.7,16.24,17.1,17.26,17.35],
 13:[11.85,12.09,12.26,16.9,17.1,17.21,17.31,17.58],12:[12.1,12.19,17.57,17.64],11:[12.03,12.15,17.22,17.41,17.58],10:[12.24,17.13,17.35,17.52,17.57,17.6],
 9:[17.53],8:[17.38,17.59,17.62],7:[11.88,17.34,17.6],6:[11.39,17.57,17.62],5:[17.24,17.46,17.64,17.66],4:[17.55,17.64,17.68,17.73],3:[10.03,10.15,11.96,17.65,17.66],2:[12.1,17.67,17.68],
 1:[10.0,10.06,10.17,10.22,10.39,10.57,10.64,10.71,10.79,11.4,11.69,11.83,11.9,12.01,12.15,12.2,12.35,12.59,17.7,17.7,17.71],
 0:[7.12,7.48,7.65,8.25,8.43,8.49,9.18,9.36,9.47,9.7,9.83,10.06,10.29,10.97,11.41,12.12,17.2]}

# Proportion of positive ratings
prop_top = [(2006.49,.971),(2006.6,.958),(2006.74,.931),(2006.7,.913),(2006.86,.909),(2007.03,.927),(2007.42,.981),(2007.48,.982),(2007.77,.974),(2007.26,.949),(2007.26,.922),(2007.68,.945),(2007.95,.942),(2008.03,.971),(2008.02,.96),(2007.83,.905),(2008.28,.985),(2008.49,.985),(2008.2,.962),(2008.34,.958),(2008.37,.975),(2008.31,.946),(2008.74,.94),(2008.37,.9),(2008.26,.892),(2008.56,.891),(2007.3,.882),(2008.72,.876),(2006.69,.87),(2006.49,.861),(2007.69,.85),(2007.98,.858),(2008.55,.852),(2008.27,.831),(2006.53,.769),(2006.55,.725),
 (2009.15,.957),(2009.19,.944),(2009.14,.929),(2009.23,.931),(2009.19,.919),(2009.11,.909),(2009.23,.896),(2009.4,.908),(2009.22,.97),(2009.3,.971),(2009.39,.971),(2009.59,.948),(2009.64,.944),(2009.75,.968),(2009.79,.966),(2009.94,.983),(2010.02,.963),(2010.1,.951),(2010.18,.957),(2010.38,.96),(2010.4,.977),(2010.68,.97),(2010.56,.953),(2010.34,.942),(2010.35,.935),(2010.06,.929),(2009.72,.922),(2010.54,.927),(2010.56,.922),(2010.36,.913),(2010.18,.902),(2009.45,.87),(2010.22,.869),(2009.39,.841),(2009.77,.839),(2009.49,.811),(2010.14,.81),(2010.24,.814),(2010.31,.794),(2010.68,.787),(2010.9,.79),(2010.38,.743),(2010.28,.718),(2010.92,.705),(2011.01,.625),(2009.41,.595),
 (2010.89,.944),(2011.01,.944),(2011.13,.948),(2011.19,.96),(2011.23,.964),(2011.33,.953),(2011.26,.984),(2010.97,.925),(2011.37,.922),(2011.49,.927),(2011.57,.926),(2011.62,.925),(2011.29,.911),(2011.39,.898),(2011.57,.907),(2011.84,.905),(2011.57,.96),(2011.76,.953),(2011.88,.975),(2012.06,.963),(2012.1,.982),(2012.16,.97),(2012.21,.978),(2012.32,.968),(2012.4,.96),(2012.63,.963),(2012.77,.96),(2012.91,.979),(2013.07,.964),(2013.19,.988),(2013.36,.982),(2012.38,.946),(2012.59,.937),(2012.46,.929),(2012.95,.929),(2012.89,.924),(2011.88,.929),(2012.02,.913),(2012.4,.913),
 (2011.04,.881),(2010.79,.867),(2011.58,.876),(2011.29,.858),(2011.79,.861),(2012.06,.858),(2012.21,.842),(2012.41,.836),(2012.27,.898),(2012.32,.881),(2012.63,.876),(2011.76,.821),(2011.88,.826),(2013.07,.834),(2013.07,.823),(2013.33,.799),(2013.15,.957),(2013.23,.953),(2013.34,.942),(2013.23,.942),(2013.46,.951),(2013.54,.951),(2013.62,.968),(2013.7,.953),(2013.75,.944),(2013.99,.952),(2013.98,.969),(2014.02,.988),(2013.62,.929),(2013.78,.922),(2013.74,.913),(2013.86,.913),(2013.94,.931),(2013.37,.905),(2013.3,.885),(2013.42,.885),(2013.52,.861),(2013.98,.892),(2014.04,.868),
 (2014.23,.979),(2014.25,.96),(2014.39,.975),(2014.51,.96),(2014.4,.949),(2014.51,.938),(2014.65,.946),(2014.71,.966),(2014.81,.951),(2014.33,.926),(2014.43,.883),(2014.47,.864),(2014.56,.835),(2014.97,.901),(2015.15,.99),(2015.15,.981),(2015.28,.878),(2015.24,.951),(2015.32,.953),(2015.4,.963),(2015.42,.904),(2015.57,.902),(2015.53,.969),(2015.72,.963),(2015.78,.966),(2015.79,.946),(2016.01,.97),(2016.15,.974),(2016.23,.969),(2016.39,.96),(2016.17,.935),(2016.11,.909),(2016.98,.948),(2017.34,.968),(2017.38,.971),(2015.85,.711)]
prop_low = [(2009.5,-.012),(2014.22,.167),(2014.17,.227),(2008.24,.205),(2009.01,.22),(2009.42,.231),(2008.73,.273),(2010.9,.277),(2009.57,.289),(2014.45,.311),(2007.38,.296),(2007.27,.33),(2007.27,.337),(2008.49,.342),(2008.92,.325),(2009.2,.357),(2009.53,.354),(2009.29,.343),(2013.36,.339),(2012.5,.334),(2012.43,.354),(2015.16,.328),(2016.82,.331),(2016.69,.371),(2013.03,.392),(2015.83,.39),(2010.86,.379),(2012.26,.418),(2011.42,.415),(2010.75,.413),(2010.26,.419),(2009.85,.417),(2011.07,.429),(2008.73,.41),(2011.66,.453),(2006.64,.44),(2007.27,.439),(2008.04,.442),(2008.32,.467),(2008.49,.467),(2008.49,.457),(2009.01,.48),(2009.42,.444),(2009.51,.444),(2012.73,.47),(2013.31,.467),(2017.25,.491),(2012.0,.487),(2011.72,.479),(2011.5,.485),
 (2006.9,.55),(2007.25,.52),(2007.9,.53),(2008.1,.51),(2008.5,.56),(2008.95,.53),(2009.3,.5),(2009.45,.56),(2009.9,.52),(2010.05,.49),(2010.4,.55),(2010.75,.52),(2011.2,.56),(2011.55,.5),(2011.9,.55),(2012.3,.53),(2012.75,.49),(2013.1,.55),(2013.45,.5),(2014.0,.54),(2014.6,.53),(2014.85,.56),(2016.95,.55),(2017.3,.54),(2006.75,.59),(2007.4,.6),(2007.05,.63),(2007.3,.66),(2007.65,.62),(2007.95,.58),(2008.2,.6),(2008.35,.65),(2008.55,.59),(2008.75,.63),(2009.0,.6),(2009.15,.66),(2009.4,.62),(2009.6,.59),(2009.85,.65),(2010.1,.6),(2010.3,.63),(2010.55,.58),(2010.8,.62),(2011.1,.58),(2011.4,.63),(2011.6,.59),(2011.85,.65),(2012.1,.6),(2012.4,.62),(2012.65,.58),(2012.9,.63),(2013.3,.58),(2013.6,.61),(2013.95,.6),(2014.2,.65),(2014.45,.62),(2014.75,.58),(2015.1,.61),(2016.25,.61),(2016.9,.61),(2017.3,.59),
 (2006.47,.68),(2006.65,.69),(2006.95,.7),(2007.25,.72),(2007.28,.7),(2007.6,.69),(2007.85,.68),(2008.0,.71),(2008.25,.67),(2008.4,.7),(2008.62,.71),(2008.85,.68),(2009.0,.72),(2009.2,.7),(2009.38,.73),(2009.5,.68),(2009.7,.72),(2009.95,.69),(2010.15,.71),(2010.35,.67),(2010.5,.7),(2010.7,.72),(2011.05,.7),(2011.25,.67),(2011.45,.69),(2011.6,.73),(2011.85,.69),(2012.1,.71),(2012.35,.68),(2012.55,.72),(2012.8,.69),(2013.05,.67),(2013.25,.72),(2013.5,.7),(2013.7,.66),(2013.9,.69),(2014.1,.73),(2014.35,.69),(2014.55,.66),(2014.7,.72),(2014.95,.69),(2015.2,.71),(2015.45,.67),(2015.7,.72),(2015.95,.69),(2016.2,.7),(2016.65,.67),(2016.85,.7),(2017.05,.66),(2017.35,.67),(2017.7,.69),
 (2006.6,.75),(2006.9,.78),(2007.1,.74),(2007.3,.76),(2007.55,.79),(2007.8,.75),(2008.1,.78),(2008.38,.74),(2008.5,.78),(2008.68,.76),(2008.9,.74),(2009.05,.78),(2009.25,.76),(2009.45,.74),(2009.65,.78),(2009.85,.75),(2010.0,.78),(2010.2,.76),(2010.42,.74),(2010.6,.78),(2010.82,.75),(2011.05,.77),(2011.2,.74),(2011.4,.78),(2011.55,.76),(2011.75,.74),(2011.95,.78),(2012.12,.75),(2012.3,.77),(2012.5,.74),(2012.7,.78),(2012.9,.75),(2013.1,.77),(2013.3,.74),(2013.5,.76),(2013.75,.78),(2013.95,.75),(2014.15,.77),(2014.3,.74),(2014.5,.77),(2014.72,.75),(2014.95,.78),(2015.15,.75),(2015.35,.78),(2015.55,.74),(2015.8,.77),(2016.1,.78),(2016.35,.75),(2016.6,.78),(2016.9,.77),(2017.2,.76),(2017.55,.75),(2017.72,.73)]
prop_high = [(2006.5,.92),(2006.6,.88),(2006.75,.84),(2006.85,.81),(2006.95,.86),(2007.05,.82),(2007.15,.93),(2007.25,.89),(2007.28,.85),(2007.28,.96),(2007.35,.81),(2007.45,.9),(2007.55,.94),(2007.65,.83),(2007.75,.87),(2007.88,.93),(2007.95,.81),(2008.05,.89),(2008.15,.95),(2008.2,.84),(2008.3,.91),(2008.42,.87),(2008.5,.82),(2008.55,.94),(2008.65,.88),(2008.72,.97),(2008.8,.83),(2008.88,.91),(2008.95,.85),(2009.05,.8),(2009.1,.98),(2009.2,.88),(2009.3,.83),(2009.35,.94),(2009.45,.9),(2009.55,.85),(2009.65,.81),(2009.7,.96),(2009.8,.89),(2009.88,.84),(2009.95,.93),(2010.03,.87),(2010.12,.83),(2010.12,.98),(2010.2,.91),(2010.28,.85),(2010.35,.81),(2010.42,.94),(2010.5,.89),(2010.55,.84),(2010.62,.97),(2010.7,.91),(2010.78,.85),(2010.85,.82),(2010.9,.96),(2010.98,.9),(2011.05,.85),(2011.12,.81),(2011.15,.97),(2011.22,.92),(2011.3,.87),(2011.37,.83),(2011.45,.97),(2011.5,.9),(2011.58,.85),(2011.65,.81),(2011.68,.94),(2011.75,.89),(2011.82,.84),(2011.92,.98),(2011.95,.92),(2012.05,.87),(2012.12,.82),(2012.18,.94),(2012.25,.88),(2012.35,.85),(2012.42,.97),(2012.5,.91),(2012.55,.86),(2012.62,.82),(2012.68,.95),(2012.72,.89),(2012.8,.85),(2012.88,.97),(2012.95,.91),(2013.02,.86),(2013.1,.81),(2013.18,.94),(2013.25,.88),(2013.32,.83),(2013.4,.97),(2013.48,.91),(2013.55,.87),(2013.6,.82),(2013.68,.94),(2013.78,.88),(2013.85,.84),(2013.92,.98),(2014.0,.91),(2014.08,.85),(2014.12,.81),(2014.2,.94),(2014.28,.89),(2014.35,.84),(2014.45,.97),(2014.52,.91),(2014.6,.86),(2014.68,.82),(2014.75,.94),(2014.85,.89),(2014.92,.84),(2015.0,.97),(2015.05,.92),(2015.12,.87),(2015.2,.83),(2015.28,.94),(2015.35,.9),(2015.45,.86),(2015.5,.97),(2015.6,.93),(2015.68,.88),(2015.75,.83),(2015.82,.96),(2015.9,.91),(2016.0,.87),(2016.05,.82),(2016.12,.95),(2016.2,.91),(2016.28,.86),(2016.35,.98),(2016.42,.93),(2016.5,.88),(2016.55,.82),(2016.62,.97),(2016.68,.92),(2016.75,.87),(2016.82,.98),(2016.88,.94),(2016.92,.89),(2016.98,.84),(2017.02,.97),(2017.08,.93),(2017.12,.88),(2017.18,.99),(2017.22,.95),(2017.28,.91),(2017.32,.86),(2017.38,.98),(2017.42,.94),(2017.45,.9),(2017.5,.85),(2017.52,.99),(2017.55,.96),(2017.58,.93),(2017.6,.89),(2017.62,1.0),(2017.64,.97),(2017.66,.95),(2017.68,.92),(2017.7,.98),(2017.7,.96),(2017.71,.94),(2017.71,.92),(2017.72,.89),(2017.72,.86),
 (2010.0,.94),(2010.3,.96),(2010.75,.93),(2011.1,.91),(2011.4,.94),(2011.7,.92),(2012.0,.95),(2012.3,.92),(2012.6,.97),(2012.85,.94),(2013.15,.92),(2013.45,.93),(2013.75,.96),(2014.05,.94),(2014.3,.95),(2014.6,.93),(2014.9,.96),(2015.1,.94),(2015.4,.92),(2015.7,.95),(2015.95,.93),(2016.15,.97),(2016.4,.95),(2016.6,.93),(2016.7,.96),(2016.8,.92),(2016.95,.95),(2017.05,.91),(2017.15,.96),(2017.25,.93),(2017.35,.95),(2017.4,.92),(2017.48,.97),(2017.52,.93),(2017.6,.95),(2017.65,.91),(2012.15,.91),(2012.45,.89),(2013.0,.88),(2013.55,.9),(2014.1,.91),(2014.7,.88),(2015.3,.89),(2015.85,.88),(2016.3,.91),(2016.75,.9),(2017.1,.9)]
prop_more = [(2007.1,.9),(2007.4,.87),(2007.7,.91),(2007.95,.86),(2008.1,.83),(2008.45,.92),(2008.6,.8),(2008.8,.95),(2008.95,.79),(2009.1,.84),(2009.25,.92),(2009.4,.78),(2009.55,.91),(2009.7,.86),(2009.85,.8),(2009.98,.9),(2010.08,.84),(2010.22,.79),(2010.38,.88),(2010.48,.82),(2010.6,.93),(2010.72,.87),(2010.8,.8),(2010.95,.83),(2011.02,.92),(2011.1,.86),(2011.18,.8),(2011.28,.94),(2011.34,.88),(2011.42,.82),(2011.5,.95),(2011.55,.87),(2011.62,.91),(2011.72,.86),(2011.78,.79),(2011.88,.9),(2011.98,.84),(2012.08,.93),(2012.14,.86),(2012.22,.8),(2012.3,.95),(2012.38,.88),(2012.44,.83),(2012.52,.94),(2012.6,.87),(2012.65,.8),(2012.75,.92),(2012.82,.87),(2012.9,.83),(2012.98,.95),(2013.05,.89),(2013.12,.85),(2013.2,.9),(2013.28,.81),(2013.35,.95),(2013.42,.87),(2013.5,.84),(2013.58,.94),(2013.65,.88),(2013.72,.83),(2013.8,.95),(2013.88,.87),(2013.95,.82),(2014.02,.94),(2014.1,.86),(2014.18,.88),(2014.25,.82),(2014.32,.93),(2014.4,.87),(2014.48,.83),(2014.55,.95),(2014.62,.89),(2014.7,.85),(2014.78,.92),(2014.88,.87),(2014.98,.93),(2015.08,.89),(2015.18,.94),(2015.25,.86),(2015.32,.81),(2015.42,.95),(2015.52,.89),(2015.58,.84),(2015.65,.92),(2015.72,.86),(2015.8,.94),(2015.88,.84),(2015.98,.96),(2016.08,.89),(2016.18,.93),(2016.25,.83),(2016.32,.94),(2016.45,.9),(2016.52,.96),(2016.58,.85),(2016.72,.89),(2016.78,.95),(2016.9,.92),(2017.0,.94),(2017.1,.96),(2017.2,.88),(2017.3,.97),(2017.36,.9),(2017.44,.96),(2017.5,.92),(2017.55,.98),(2017.58,.9),(2017.62,.94),(2017.65,.98),(2017.68,.9),(2017.7,.93),(2017.72,.95),(2017.72,.97)]

YEAR_TICKS = [2010, 2015]
TICK_LABELS = ['2010', '2015']


def xs(points):
    return [p[0] for p in points]


def ys(points):
    return [p[1] for p in points]


def years(values):
    return [2000 + v for v in values]


fig = plt.figure(figsize=(W / 100, H / 100), dpi=100, facecolor='white')
page = fig.add_axes([0, 0, 1, 1])
page.set_xlim(0, W)
page.set_ylim(H, 0)
page.axis('off')
page.add_patch(Rectangle((22, 0), W - 22, H, fc=BLUE, ec='none'))
page.add_patch(FancyBboxPatch((70, 38), W, 2153, boxstyle='round,pad=10,rounding_size=14',
                              fc='#F2F2F2', ec='#2F86AE', lw=1))


def make_axes(left, top, right, bottom):
    return fig.add_axes([left / W, 1 - bottom / H, (right - left) / W, (bottom - top) / H])


def scatter_panel(frame, box, title, title_xy, ylim, yticks):
    fx0, fy0, fx1, fy1 = frame
    page.add_patch(Rectangle((fx0, fy0), fx1 - fx0, fy1 - fy0, fc='white', ec='#3D8DB3', lw=1.3))
    page.text(title_xy[0], title_xy[1], title, ha='center', va='center', fontsize=27.8, fontweight='bold', color='black')
    ax = make_axes(*box)
    ax.set_facecolor('#EBEBEB')
    for s in ax.spines.values():
        s.set_visible(False)
    ax.set_xlim(2005.91, 2018.30)
    ax.set_ylim(*ylim)
    ax.set_xticks(YEAR_TICKS, TICK_LABELS)
    ax.set_yticks(yticks, [''] * len(yticks))
    ax.tick_params(axis='both', length=2.3, width=1.1, color='#333333', labelcolor='#4D4D4D', labelsize=22, pad=2)
    return ax


def dots(ax, x, y, kind, alpha=None):
    if kind == 'rest':
        ax.scatter(x, y, s=25, color=BLUE, alpha=0.15 if alpha is None else alpha, linewidths=0, zorder=2)
    else:
        ax.scatter(x, y, s=25, color=ORANGE, alpha=0.8, linewidths=0, zorder=3)


# Views
ax = scatter_panel((130, 73, 732, 675), (147, 123, 717, 634), 'Views', (432, 104), (-0.253, 5.36), [0, 1, 2, 3, 4, 5])
dots(ax, years(halo_years), views_far, 'rest')
dots(ax, years(halo_years), views_near, 'rest', .22)
dots(ax, years(core_years), views_core, 'rest', .6)
dots(ax, xs(views_extra_blue), ys(views_extra_blue), 'rest')
dots(ax, views_x, views_y, 'top')

# Comments
ax = scatter_panel((809, 73, 1412, 675), (828, 123, 1398, 634), 'Comments', (1111, 104), (-0.168, 3.37), [0, 1, 2, 3])
dots(ax, years(halo_years), comments_far, 'rest')
dots(ax, years(halo_years), comments_near, 'rest', .22)
dots(ax, years(core_years), comments_core, 'rest', .6)
dots(ax, xs(comments_extra_blue), ys(comments_extra_blue), 'rest')
dots(ax, comments_x, comments_y, 'top')

# Ratings
ax = scatter_panel((468, 678, 1072, 1281), (487, 732, 1057, 1238), 'Ratings', (772, 710), (-0.189, 4.15), [0, 1, 2, 3, 4])
dots(ax, years(halo_years), ratings_far, 'rest')
dots(ax, years(halo_years), ratings_near, 'rest', .22)
dots(ax, years(core_years), ratings_core, 'rest', .6)
dots(ax, xs(ratings_extra_blue), ys(ratings_extra_blue), 'rest')
dots(ax, ratings_x, ratings_y, 'top')

# Languages
ax = scatter_panel((116, 1300, 718, 1903), (134, 1354, 704, 1860), 'Languages', (419, 1332), (-3.48, 75.6), [0, 20, 40, 60])
for level, vals in lang_rest_levels.items():
    dots(ax, years(vals), [level] * len(vals), 'rest', .19)
for level, vals in lang_top_levels.items():
    dots(ax, years(vals), [level] * len(vals), 'top')

# Proportion
ax = scatter_panel((823, 1300, 1424, 1903), (840, 1353, 1410, 1860), 'Proportion of Pos.', (1126, 1332), (-0.0246, 1.0 + 24 / 455.2), [0, .25, .5, .75, 1])
dots(ax, xs(prop_low), ys(prop_low), 'rest')
dots(ax, xs(prop_high), ys(prop_high), 'rest', .2)
dots(ax, xs(prop_more), ys(prop_more), 'rest', .2)
dots(ax, xs(prop_top), ys(prop_top), 'top')

# Figure 4
page.add_patch(Rectangle((1618, 70), 2697 - 1618, 1907 - 70, fc='white', ec='#3D8DB3', lw=1.3))
ax = make_axes(1980, 90, 2677, 1792)
ax.set_facecolor('#EBEBEB')
for s in ax.spines.values():
    s.set_visible(False)
n = len(topics)
positions = [n - i for i in range(n)]
stats = [dict(whislo=a, q1=b, med=c, q3=d, whishi=e, fliers=f)
         for a, b, c, d, e, f in zip(whislo, q1, medians, q3, whishi, outliers)]
bp = ax.bxp(stats, positions=positions, widths=.76, orientation='horizontal', patch_artist=True, showcaps=False,
            boxprops=dict(edgecolor='#333333', linewidth=1.8),
            medianprops=dict(color='#333333', linewidth=3.4, solid_capstyle='butt', zorder=3),
            whiskerprops=dict(color='#333333', linewidth=1.7),
            flierprops=dict(marker='o', markerfacecolor='#333333', markeredgecolor='#333333', markersize=6.6))
topic_colors = [ORANGE if t in positive_topics else BLUE for t in topics]
for box, c in zip(bp['boxes'], topic_colors):
    box.set_facecolor(c)
    box.set_zorder(2)
ax.axvline(0, color='black', lw=3, linestyle=(0, (4.6, 3.6)), zorder=5)
ax.set_xlim(-6.74, 9.29)
ax.set_ylim(.38, 30.586)
ax.set_yticks(positions, topics)
ax.set_xticks([-5, 0, 5], ['\u22125', '0', '5'])
ax.tick_params(axis='y', length=4.2, width=1.2, color='#333333', labelsize=36.3, pad=3)
ax.tick_params(axis='x', length=4.2, width=1.2, color='#333333', labelsize=35, labelcolor='#4D4D4D', pad=4)
for lab, c in zip(ax.get_yticklabels(), topic_colors):
    lab.set_color(c)
page.text(2327, 1868, 'PC1', ha='center', va='center', fontsize=35, fontweight='bold', color='black')

# Captions
CAP = ['cmss10', 'Liberation Sans']
page.text(91, 1996, 'Figure 3:', family=CAP, fontsize=46.2, color=ORANGE, va='baseline', ha='left')
page.text(1433, 1996, 'Characteristics of top 10% most popular', family=CAP, fontsize=46.2, color='black', va='baseline', ha='right')
page.text(91, 2078, 'talks (in orange) based on PC1', family=CAP, fontsize=46.2, color='black', va='baseline', ha='left')
page.text(1478, 1998, 'Figure 4:', family=CAP, fontsize=46.2, color=ORANGE, va='baseline', ha='left')
page.text(2798, 1998, 'Popularity by topics (positive median in', family=CAP, fontsize=45.8, color='black', va='baseline', ha='right')
page.text(1477, 2081, 'orange)', family=CAP, fontsize=46.2, color='black', va='baseline', ha='left')

fig.savefig('out.png', dpi=100)
